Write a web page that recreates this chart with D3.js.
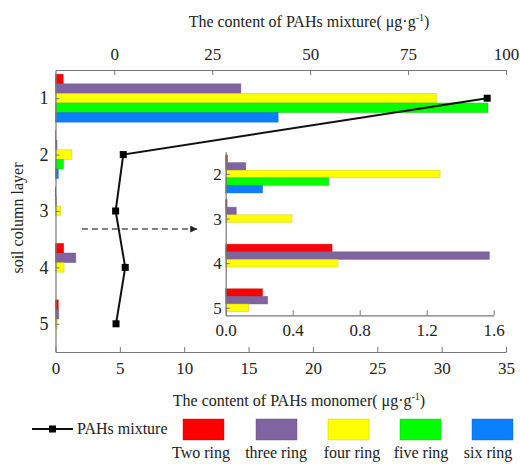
<!DOCTYPE html>
<html>
<head>
<meta charset="utf-8">
<script src="https://cdn.jsdelivr.net/npm/d3@7"></script>
<style>
  body { margin: 0; background: #fff; }
  svg, svg text { font-family: 'Liberation Serif', 'DejaVu Serif', serif !important; }
  text { fill: #222; }
</style>
</head>
<body>
<div id="chart"></div>
<script>
(function() {
  // data
  var layers = [1, 2, 3, 4, 5];
  var seriesNames = ['Two ring', 'three ring', 'four ring', 'five ring', 'six ring'];
  var seriesColors = ['#ff0000', '#8064a2', '#ffff00', '#00ff00', '#0a80ff'];
  var twoRing = [0.6, 0.01, 0.008, 0.635, 0.22];
  var threeRing = [14.4, 0.12, 0.063, 1.574, 0.25];
  var fourRing = [29.6, 1.28, 0.396, 0.67, 0.137];
  var fiveRing = [33.6, 0.615, 0, 0, 0];
  var sixRing = [17.3, 0.22, 0, 0, 0];
  var mixture = [95.2, 2.3, 0.35, 2.8, 0.45];
  var topTicks = [0, 25, 50, 75, 100];
  var bottomTicks = [0, 5, 10, 15, 20, 25, 30, 35];
  var insetTicks = [0, 0.4, 0.8, 1.2, 1.6];
  var insetLayers = [2, 3, 4, 5];

  var series = [twoRing, threeRing, fourRing, fiveRing, sixRing];
  var axisColor = '#777';
  var serif = "'Liberation Serif', 'DejaVu Serif', serif";

  var svg = d3.select('#chart').append('svg').attr('width', 520).attr('height', 464)
    .style('font-family', serif);

  var xBottom = d3.scaleLinear().domain([0, 35]).range([55.5, 506]);
  var xTop = d3.scaleLinear().domain([-15, 100]).range([55.5, 506]);
  var y = d3.scaleLinear().domain([0.5, 5.5]).range([70, 352]);
  var sub = d3.scaleBand().domain(d3.range(5)).range([-0.425, 0.425]);

  var styleAxis = function(size) {
    return function(g) {
      g.attr('font-family', null);
      g.selectAll('.domain').attr('stroke', axisColor).attr('stroke-width', 1.2);
      g.selectAll('.tick line').attr('stroke', axisColor);
      g.selectAll('.tick text').style('font-size', size + 'px').style('font-family', serif).attr('fill', '#222');
    };
  };

  var drawBars = function(g, xs, ys, rows) {
    series.forEach(function(vals, si) {
      g.selectAll('rect.s' + si).data(rows).enter().append('rect')
        .attr('class', 's' + si)
        .attr('x', xs(0))
        .attr('y', function(l) { return ys(l + sub(si)); })
        .attr('width', function(l) { return Math.max(0, xs(vals[l - 1]) - xs(0)); })
        .attr('height', function(l) { return ys(l + sub(si) + sub.bandwidth()) - ys(l + sub(si)); })
        .attr('fill', seriesColors[si])
        .attr('stroke', d3.color(seriesColors[si]).darker(0.8))
        .attr('stroke-opacity', 0.5)
        .attr('stroke-width', 0.8);
    });
  };

  // main bars
  drawBars(svg.append('g'), xBottom, y, layers);

  // axes
  svg.append('g').attr('transform', 'translate(0,352)')
    .call(d3.axisBottom(xBottom).tickValues(bottomTicks).tickSizeInner(-5).tickSizeOuter(0).tickPadding(10))
    .call(styleAxis(17));
  svg.append('g').attr('transform', 'translate(0,70)')
    .call(d3.axisTop(xTop).tickValues(topTicks).tickSizeInner(-5).tickSizeOuter(0).tickPadding(10))
    .call(styleAxis(17));
  svg.append('g').attr('transform', 'translate(55.5,0)')
    .call(d3.axisLeft(y).tickValues(layers).tickFormat(d3.format('d')).tickSizeInner(-4).tickSizeOuter(0).tickPadding(7))
    .call(styleAxis(18));

  // mixture line
  var line = d3.line()
    .x(function(d, i) { return xTop(d); })
    .y(function(d, i) { return y(layers[i]); });
  svg.append('path').datum(mixture).attr('d', line)
    .attr('fill', 'none').attr('stroke', '#111').attr('stroke-width', 2);
  svg.selectAll('rect.mk').data(mixture).enter().append('rect').attr('class', 'mk')
    .attr('x', function(d) { return xTop(d) - 3.5; })
    .attr('y', function(d, i) { return y(layers[i]) - 3.5; })
    .attr('width', 7).attr('height', 7).attr('fill', '#000');

  // inset
  var xIn = d3.scaleLinear().domain([0, 1.6]).range([225.7, 493.7]);
  var yIn = d3.scaleLinear().domain([1.5, 5.17]).range([151.7, 315.3]);
  var inset = svg.append('g');
  drawBars(inset, xIn, yIn, insetLayers);
  inset.append('g').attr('transform', 'translate(0,315.3)')
    .call(d3.axisBottom(xIn).tickValues(insetTicks).tickFormat(d3.format('.1f')).tickSizeInner(-5).tickSizeOuter(0).tickPadding(9))
    .call(styleAxis(17));
  inset.append('g').attr('transform', 'translate(225.7,0)')
    .call(d3.axisLeft(yIn).tickValues(insetLayers).tickFormat(d3.format('d')).tickSizeInner(-4).tickSizeOuter(0).tickPadding(4))
    .call(styleAxis(17));

  // dashed arrow
  var defs = svg.append('defs');
  defs.append('marker').attr('id', 'arr').attr('viewBox', '0 0 10 10')
    .attr('refX', 10).attr('refY', 5).attr('markerWidth', 7).attr('markerHeight', 7)
    .attr('markerUnits', 'userSpaceOnUse').attr('orient', 'auto')
    .append('path').attr('d', 'M0,0L10,5L0,10Z').attr('fill', '#222');
  svg.append('line')
    .attr('x1', xBottom(2.05)).attr('x2', xIn(0) - 28.5)
    .attr('y1', y(3.32)).attr('y2', y(3.32))
    .attr('stroke', '#555').attr('stroke-width', 1.4).attr('stroke-dasharray', '6,4')
    .attr('marker-end', 'url(#arr)');

  // titles
  var unitTitle = function(text, x, yy) {
    var t = svg.append('text').attr('x', x).attr('y', yy).attr('text-anchor', 'middle').style('font-size', '16px');
    t.append('tspan').text(text + '( \u03bcg\u00b7g');
    t.append('tspan').attr('dy', -6).style('font-size', '10px').text('-1');
    t.append('tspan').attr('dy', 6).text(')');
  };
  unitTitle('The content of PAHs mixture', 309, 27);
  unitTitle('The content of PAHs monomer', 299, 406);

  svg.append('text').attr('transform', 'translate(23,218) rotate(-90)')
    .attr('text-anchor', 'middle').style('font-size', '16px').text('soil column layer');

  // legend
  var lg = svg.append('g');
  lg.append('line').attr('x1', 32).attr('x2', 73).attr('y1', 429).attr('y2', 429)
    .attr('stroke', '#111').attr('stroke-width', 2);
  lg.append('rect').attr('x', 49).attr('y', 425.5).attr('width', 7).attr('height', 7).attr('fill', '#000');
  lg.append('text').attr('x', 77).attr('y', 434).style('font-size', '16px').text('PAHs mixture');
  var boxX = [183, 256, 328, 400, 472];
  var labX = [201, 276, 352, 421, 488];
  seriesNames.forEach(function(name, i) {
    lg.append('rect').attr('x', boxX[i]).attr('y', 419).attr('width', 41).attr('height', 21)
      .attr('fill', seriesColors[i]).attr('stroke', d3.color(seriesColors[i]).darker(0.8))
      .attr('stroke-opacity', 0.5).attr('stroke-width', 0.8);
    lg.append('text').attr('x', labX[i]).attr('y', 458).attr('text-anchor', 'middle')
      .style('font-size', '16px').text(name);
  });
})();
</script>
</body>
</html>
